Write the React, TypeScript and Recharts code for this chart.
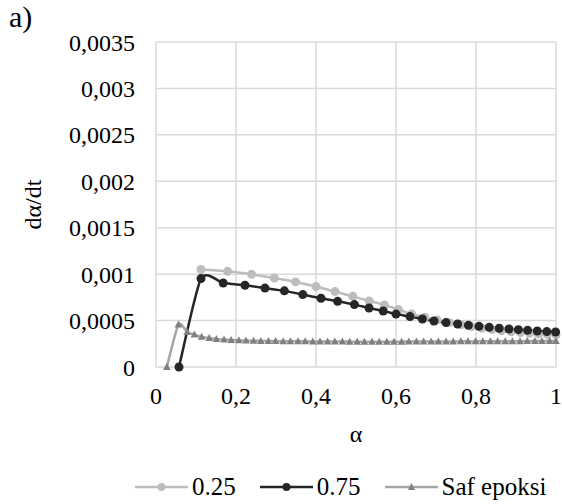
import React from "react";
import { CartesianGrid, Legend, Line, LineChart, XAxis, YAxis } from "recharts";

// α values and dα/dt for each series
const alpha25 = [
  0.1125, 0.179, 0.239, 0.296, 0.349, 0.4, 0.4475, 0.492, 0.533, 0.571,
  0.606, 0.639, 0.672, 0.703, 0.733, 0.762, 0.789, 0.815, 0.84, 0.864,
  0.888, 0.911, 0.934, 0.956, 0.978, 1.0,
];
const rate25 = [
  0.00105, 0.00103, 0.000998, 0.000958, 0.000916, 0.000866, 0.000812, 0.000761, 0.000711, 0.000668,
  0.000618, 0.00057, 0.000535, 0.000505, 0.000478, 0.000455, 0.000435, 0.000418, 0.000403, 0.00039,
  0.000379, 0.00037, 0.000362, 0.000356, 0.000351, 0.000347,
];

const alpha75 = [
  0.0575, 0.1125, 0.168, 0.2225, 0.2725, 0.321, 0.367, 0.4125, 0.454, 0.496,
  0.5325, 0.568, 0.6, 0.635, 0.666, 0.695, 0.725, 0.754, 0.781, 0.8075,
  0.833, 0.858, 0.8825, 0.906, 0.929, 0.953, 0.977, 0.999,
];
const rate75 = [
  0, 0.000952, 0.000905, 0.00088, 0.00085, 0.00082, 0.00078, 0.00074, 0.000707, 0.000672,
  0.000635, 0.000603, 0.00057, 0.000543, 0.000517, 0.000495, 0.000478, 0.000463, 0.000449, 0.000438,
  0.000427, 0.000417, 0.000409, 0.000402, 0.000395, 0.000388, 0.000381, 0.000377,
];

const alphaSaf = [
  0.027, 0.056, 0.078, 0.096, 0.114, 0.133, 0.151, 0.17, 0.188, 0.207,
  0.225, 0.244, 0.262, 0.281, 0.299, 0.318, 0.336, 0.355, 0.373, 0.392,
  0.41, 0.429, 0.447, 0.466, 0.484, 0.503, 0.521, 0.54, 0.558, 0.577,
  0.595, 0.614, 0.632, 0.651, 0.669, 0.688, 0.706, 0.725, 0.743, 0.762,
  0.78, 0.799, 0.817, 0.836, 0.854, 0.873, 0.891, 0.91, 0.928, 0.947,
  0.965, 0.984, 1.0,
];
const rateSaf = [
  0, 0.000457, 0.000377, 0.000349, 0.000327, 0.000312, 0.000302, 0.000296, 0.000291, 0.000288,
  0.000285, 0.000283, 0.000281, 0.00028, 0.000279, 0.000278, 0.000277, 0.000276, 0.000276, 0.000275,
  0.000275, 0.000274, 0.000274, 0.000274, 0.000273, 0.000273, 0.000273, 0.000273, 0.000273, 0.000273,
  0.000273, 0.000273, 0.000274, 0.000274, 0.000274, 0.000274, 0.000275, 0.000275, 0.000275, 0.000276,
  0.000276, 0.000276, 0.000277, 0.000277, 0.000277, 0.000278, 0.000278, 0.000278, 0.000279, 0.000279,
  0.000279, 0.00028, 0.00028,
];

const xTicks = [0, 0.2, 0.4, 0.6, 0.8, 1];
const yTicks = [0, 0.0005, 0.001, 0.0015, 0.002, 0.0025, 0.003, 0.0035];

const toRows = (xs: number[], ys: number[]) => xs.map((a, i) => ({ a, v: ys[i] }));

const FONT = "'Times New Roman', 'Liberation Serif', serif";
const C25 = "#bdbdbd";
const C75 = "#262626";
const CSAF_LINE = "#a6a6a6";
const CSAF_MARK = "#808080";

const comma = (v: number) => String(v).replace(".", ",");

// smoothed line through the points, tension kept low so peaks only bulge a little
const smooth = (context: any) => {
  let pts: number[][] = [];
  const k = 9;
  return {
    areaStart() {},
    areaEnd() {},
    lineStart() {
      pts = [];
    },
    point(x: number, y: number) {
      pts.push([+x, +y]);
    },
    lineEnd() {
      if (!pts.length) return;
      context.moveTo(pts[0][0], pts[0][1]);
      for (let i = 0; i < pts.length - 1; i++) {
        const p0 = pts[i - 1] || pts[i];
        const p1 = pts[i];
        const p2 = pts[i + 1];
        const p3 = pts[i + 2] || p2;
        context.bezierCurveTo(
          p1[0] + (p2[0] - p0[0]) / k,
          p1[1] + (p2[1] - p0[1]) / k,
          p2[0] - (p3[0] - p1[0]) / k,
          p2[1] - (p3[1] - p1[1]) / k,
          p2[0],
          p2[1]
        );
      }
    },
  };
};

const Triangle = (props: any) => {
  const { cx, cy, index } = props;
  if (cx == null || cy == null) return <g key={index} />;
  return (
    <polygon
      key={index}
      points={`${cx},${cy - 4} ${cx - 3.8},${cy + 3} ${cx + 3.8},${cy + 3}`}
      fill={CSAF_MARK}
    />
  );
};

const legendItems = [
  { name: "0.25", line: C25, mark: C25, shape: "circle" },
  { name: "0.75", line: C75, mark: C75, shape: "circle" },
  { name: "Saf epoksi", line: CSAF_LINE, mark: CSAF_MARK, shape: "triangle" },
];

const LegendBox = () => (
  <div
    style={{
      display: "flex",
      height: 30,
      width: 562,
      alignItems: "center",
      paddingLeft: 135,
      boxSizing: "border-box",
      fontFamily: FONT,
      fontSize: 25,
      color: "#000",
      whiteSpace: "nowrap",
    }}
  >
    {legendItems.map((it, i) => (
      <div
        key={it.name}
        style={{
          display: "flex",
          alignItems: "center",
          flexShrink: 0,
          marginRight: i < legendItems.length - 1 ? 24 : 0,
        }}
      >
        <svg width={53} height={14} style={{ marginRight: 4, flexShrink: 0 }}>
          <line x1={0} y1={7} x2={53} y2={7} stroke={it.line} strokeWidth={2.5} />
          {it.shape === "circle" ? (
            <circle cx={26.5} cy={7} r={4} fill={it.mark} />
          ) : (
            <polygon points="26.5,3 23,10 30,10" fill={it.mark} />
          )}
        </svg>
        <span>{it.name}</span>
      </div>
    ))}
  </div>
);

const tickStyle = { fill: "#000", fontSize: 24, fontFamily: FONT };

export default function App() {
  return (
    <div
      style={{
        position: "absolute",
        left: 0,
        top: 0,
        width: 562,
        height: 504,
        background: "#fff",
        fontFamily: FONT,
      }}
    >
      <div
        style={{
          position: "absolute",
          left: 9,
          top: 0,
          fontSize: 30,
          lineHeight: "34px",
          color: "#000",
        }}
      >
        a)
      </div>
      <LineChart width={562} height={504} margin={{ top: 42, right: 6, left: 0, bottom: 2 }}>
        <CartesianGrid stroke="#d9d9d9" strokeWidth={1.5} />
        <XAxis
          dataKey="a"
          type="number"
          domain={[0, 1]}
          ticks={xTicks}
          tickFormatter={comma}
          axisLine={false}
          tickLine={false}
          tickSize={0}
          tickMargin={20}
          height={105}
          tick={tickStyle}
          allowDuplicatedCategory={false}
          label={{ value: "α", position: "insideBottom", offset: 30, fill: "#000", fontSize: 24, fontFamily: FONT }}
        />
        <YAxis
          type="number"
          domain={[0, 0.0035]}
          ticks={yTicks}
          tickFormatter={comma}
          axisLine={false}
          tickLine={false}
          tickSize={0}
          tickMargin={21}
          width={156}
          tick={tickStyle}
          label={{
            value: "dα/dt",
            angle: -90,
            position: "insideLeft",
            offset: 32,
            fill: "#000",
            fontSize: 24,
            fontFamily: FONT,
            style: { textAnchor: "middle" },
          }}
        />
        <Legend
          verticalAlign="bottom"
          wrapperStyle={{ left: 0, width: 562 }}
          content={() => <LegendBox />}
        />
        <Line
          data={toRows(alpha25, rate25)}
          dataKey="v"
          name="0.25"
          type={smooth as any}
          stroke={C25}
          strokeWidth={2.5}
          dot={{ r: 4.5, fill: C25, stroke: "none" }}
          isAnimationActive={false}
        />
        <Line
          data={toRows(alpha75, rate75)}
          dataKey="v"
          name="0.75"
          type={smooth as any}
          stroke={C75}
          strokeWidth={2.5}
          dot={{ r: 4.5, fill: C75, stroke: "none" }}
          isAnimationActive={false}
        />
        <Line
          data={toRows(alphaSaf, rateSaf)}
          dataKey="v"
          name="Saf epoksi"
          type={smooth as any}
          stroke={CSAF_LINE}
          strokeWidth={2.5}
          dot={Triangle}
          isAnimationActive={false}
        />
      </LineChart>
    </div>
  );
}
